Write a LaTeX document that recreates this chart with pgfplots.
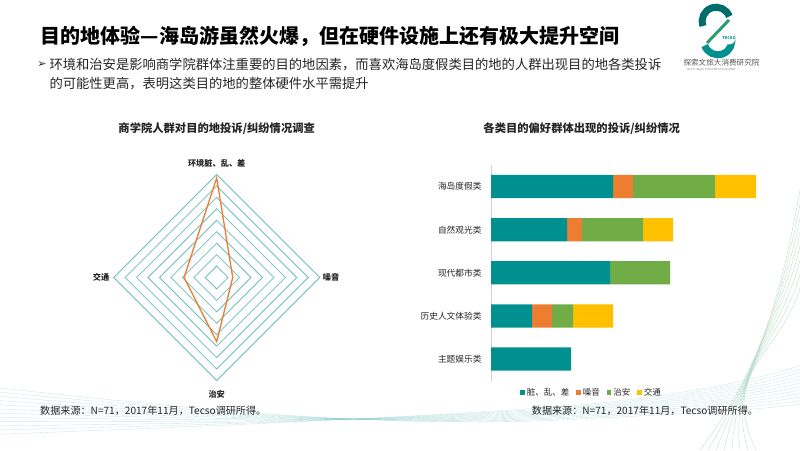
\documentclass[border=0pt]{standalone}
\usepackage{fontspec}
\setmainfont{Noto Sans CJK SC}
\newfontfamily\dejavu{DejaVu Sans}
\usepackage{pgfplots}
\pgfplotsset{compat=1.18}
\definecolor{cteal}{HTML}{009090}
\definecolor{corange}{HTML}{ED7D31}
\definecolor{cgreen}{HTML}{70AD47}
\definecolor{cyellow}{HTML}{FFC000}
\definecolor{ring}{HTML}{6FBDBD}
\definecolor{txt}{HTML}{262626}
\begin{document}
\begin{tikzpicture}
\path[use as bounding box, fill=white] (0pt,0pt) rectangle (800pt,450pt);
% decorative waves
\begin{scope}[x=1pt,y=1pt]
\foreach \i in {0,...,11}{
  \draw[cteal!60, opacity=0.35, line width=0.35pt]
    (0,{62-\i*4.2}) .. controls (200,{40-\i*1.5}) and (380,{22+\i*0.8}) .. (560,{30+\i*1.2})
    .. controls (680,{36+\i*1.6}) and (760,{40+\i*2.8}) .. (800,{46+\i*3.5});
}
\foreach \i in {0,...,7}{
  \draw[cgreen!60!cteal, opacity=0.35, line width=0.35pt]
    (800,{260-\i*14}) .. controls (780,{150-\i*8}) and ({760-\i*6},80) .. ({700+\i*8},0);
}
\end{scope}
% logo
\begin{scope}[shift={(718pt,420pt)}]
  \draw[line width=7pt, cteal!75!black] (-15pt,4pt) arc[start angle=200, end angle=20, radius=14pt];
  \draw[line width=7pt, cteal] (13pt,-6pt) arc[start angle=20, end angle=-160, radius=14pt];
  \draw[line width=3pt, cteal!60!cgreen] (11pt,10pt) -- (-11pt,-13pt);
  \fill[white] (11pt,-8pt) circle (6.5pt);
  \node[font=\fontsize{4pt}{4pt}\selectfont\bfseries, text=cteal] at (11pt,-8pt) {TECSO};
\end{scope}
\node[anchor=west, font=\fontsize{7.6pt}{8pt}\selectfont, text=black!65] at (680pt,387pt) {探索文旅大消费研究院};
\node[anchor=west, font=\fontsize{2.6pt}{3pt}\selectfont, text=black!50] at (683pt,380pt) {TECSO TRAVEL CONSUMPTION ACADEMY};
% title and bullet
\node[anchor=west, inner sep=0pt, font=\fontsize{20pt}{24pt}\selectfont\bfseries, text=black] at (40.5pt,413.5pt) {目的地体验—海岛游虽然火爆，但在硬件设施上还有极大提升空间};
\node[anchor=center, inner sep=0pt, font=\dejavu\fontsize{11pt}{12pt}\selectfont, text=txt] at (42pt,385pt) {➢};
\node[anchor=west, inner sep=0pt, font=\fontsize{13.3pt}{16pt}\selectfont, text=txt] at (49.3pt,385pt) {环境和治安是影响商学院群体注重要的目的地因素，而喜欢海岛度假类目的地的人群出现目的地各类投诉};
\node[anchor=west, inner sep=0pt, font=\fontsize{13.3pt}{16pt}\selectfont, text=txt] at (49.3pt,366pt) {的可能性更高，表明这类目的地的整体硬件水平需提升};
% chart titles
\node[font=\fontsize{11.3pt}{13pt}\selectfont\bfseries, text=txt] at (216.7pt,321pt) {商学院人群对目的地投诉/纠纷情况调查};
\node[font=\fontsize{11.3pt}{13pt}\selectfont\bfseries, text=txt] at (581.7pt,321pt) {各类目的偏好群体出现的投诉/纠纷情况};
% sources
\node[anchor=west, inner sep=0pt, font=\fontsize{10.1pt}{12pt}\selectfont, text=txt] at (40pt,39pt) {数据来源：N=71，2017年11月，Tecso调研所得。};
\node[anchor=west, inner sep=0pt, font=\fontsize{10.1pt}{12pt}\selectfont, text=txt] at (531.7pt,39pt) {数据来源：N=71，2017年11月，Tecso调研所得。};
% radar chart
\begin{axis}[at={(216.7pt,172.5pt)}, anchor=center, width=217.4pt, height=217.4pt,
  scale only axis, xmin=-9.5, xmax=9.5, ymin=-9.5, ymax=9.5,
  axis lines=none, clip=false]
\pgfplotsinvokeforeach{1,...,9}{
  \addplot[ring, line width=0.8pt, line join=miter] coordinates {(0,#1) (#1,0) (0,-#1) (-#1,0)} --cycle;
}
\addplot[corange, line width=1.3pt, line join=miter] coordinates {(0,8.7) (1.4,0) (0,-5.6) (-2.85,0)} --cycle;
\node[font=\fontsize{8.2pt}{10pt}\selectfont\bfseries, text=txt] at (axis cs:0,10) {环境脏、乱、差};
\node[font=\fontsize{8.2pt}{10pt}\selectfont\bfseries, text=txt] at (axis cs:0,-10.2) {治安};
\node[font=\fontsize{8.2pt}{10pt}\selectfont\bfseries, text=txt] at (axis cs:-10.1,0) {交通};
\node[font=\fontsize{8.2pt}{10pt}\selectfont\bfseries, text=txt] at (axis cs:10,0) {噪音};
\end{axis}
% stacked bar chart
\begin{axis}[at={(491pt,285pt)}, anchor=north west, width=280pt, height=215.6pt,
  scale only axis, xbar stacked, bar width=23.3pt,
  xmin=0, xmax=28, ymin=-0.5, ymax=4.5, y dir=reverse,
  ytick={0,1,2,3,4},
  yticklabels={海岛度假类,自然观光类,现代都市类,历史人文体验类,主题娱乐类},
  yticklabel style={inner sep=0pt, xshift=-9.3pt, font=\fontsize{8.7pt}{10pt}\selectfont, text=txt},
  axis x line=none, axis y line*=left,
  y axis line style={draw=black!18, line width=0.8pt},
  ytick style={draw=none}, xtick=\empty,
  legend columns=4,
  legend style={at={(0.359,-0.056)}, anchor=center, draw=none, fill=none,
    font=\fontsize{8.5pt}{10pt}\selectfont, text=txt,
    /tikz/every even column/.append style={column sep=5pt}},
  legend image code/.code={\fill[#1] (0pt,-2.2pt) rectangle (4.5pt,2.3pt);},
]
\addplot[fill=cteal, draw=none] coordinates {(12.2,0) (7.6,1) (11.9,2) (4.1,3) (8.0,4)};
\addplot[fill=corange, draw=none] coordinates {(2.0,0) (1.5,1) (0,2) (2.0,3) (0,4)};
\addplot[fill=cgreen, draw=none] coordinates {(8.2,0) (6.1,1) (6.0,2) (2.1,3) (0,4)};
\addplot[fill=cyellow, draw=none] coordinates {(4.1,0) (3.0,1) (0,2) (4.0,3) (0,4)};
\legend{脏、乱、差,噪音,治安,交通}
\end{axis}
\end{tikzpicture}
\end{document}
